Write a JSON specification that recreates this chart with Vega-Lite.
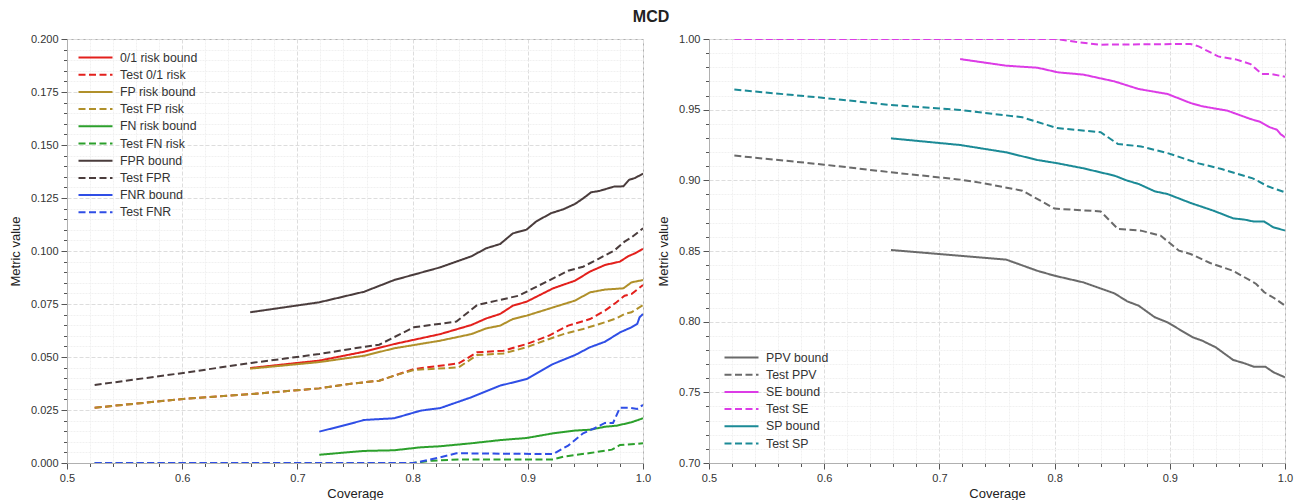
{
  "$schema": "https://vega.github.io/schema/vega-lite/v6.json",
  "background": "white",
  "padding": {"left": 8, "top": 8, "right": 18, "bottom": 5},
  "title": {"text": "MCD", "fontSize": 16, "fontWeight": "bold", "font": "Liberation Sans", "color": "#222", "anchor": "middle", "offset": 8},
  "spacing": 5,
  "config": {
    "view": {"stroke": "#b0b0b0", "strokeWidth": 1},
    "font": "Liberation Sans",
    "axis": {"labelFont": "Liberation Sans", "labelFontSize": 11, "labelColor": "#333", "titleFont": "Liberation Sans", "titleFontSize": 13, "titleFontWeight": "normal", "titleColor": "#222", "domainColor": "#b0b0b0", "tickColor": "#555", "labelPadding": 3},
    "legend": {"labelFont": "Liberation Sans", "labelFontSize": 12.3, "labelColor": "#333", "symbolType": "M-2,0H2", "symbolSize": 289, "symbolStrokeWidth": 2, "symbolFillColor": "transparent", "rowPadding": 1.2, "labelOffset": 15, "title": null}
  },
  "datasets": {
    "left": [
      {"series": "0/1 risk bound", "coverage": 0.659, "value": 0.0448},
      {"series": "0/1 risk bound", "coverage": 0.719, "value": 0.0483},
      {"series": "0/1 risk bound", "coverage": 0.758, "value": 0.0525},
      {"series": "0/1 risk bound", "coverage": 0.784, "value": 0.0561},
      {"series": "0/1 risk bound", "coverage": 0.824, "value": 0.0608},
      {"series": "0/1 risk bound", "coverage": 0.851, "value": 0.0651},
      {"series": "0/1 risk bound", "coverage": 0.864, "value": 0.0682},
      {"series": "0/1 risk bound", "coverage": 0.876, "value": 0.0703},
      {"series": "0/1 risk bound", "coverage": 0.887, "value": 0.0742},
      {"series": "0/1 risk bound", "coverage": 0.899, "value": 0.0761},
      {"series": "0/1 risk bound", "coverage": 0.922, "value": 0.0824},
      {"series": "0/1 risk bound", "coverage": 0.941, "value": 0.086},
      {"series": "0/1 risk bound", "coverage": 0.954, "value": 0.0903},
      {"series": "0/1 risk bound", "coverage": 0.967, "value": 0.0934},
      {"series": "0/1 risk bound", "coverage": 0.98, "value": 0.095},
      {"series": "0/1 risk bound", "coverage": 0.987, "value": 0.0975},
      {"series": "0/1 risk bound", "coverage": 0.993, "value": 0.0989},
      {"series": "0/1 risk bound", "coverage": 1.0, "value": 0.101},
      {"series": "Test 0/1 risk", "coverage": 0.524, "value": 0.0261},
      {"series": "Test 0/1 risk", "coverage": 0.601, "value": 0.0302},
      {"series": "Test 0/1 risk", "coverage": 0.66, "value": 0.0325},
      {"series": "Test 0/1 risk", "coverage": 0.719, "value": 0.0352},
      {"series": "Test 0/1 risk", "coverage": 0.745, "value": 0.0373},
      {"series": "Test 0/1 risk", "coverage": 0.771, "value": 0.0388},
      {"series": "Test 0/1 risk", "coverage": 0.784, "value": 0.0412},
      {"series": "Test 0/1 risk", "coverage": 0.801, "value": 0.0443},
      {"series": "Test 0/1 risk", "coverage": 0.84, "value": 0.047},
      {"series": "Test 0/1 risk", "coverage": 0.856, "value": 0.0522},
      {"series": "Test 0/1 risk", "coverage": 0.879, "value": 0.053},
      {"series": "Test 0/1 risk", "coverage": 0.899, "value": 0.0561},
      {"series": "Test 0/1 risk", "coverage": 0.918, "value": 0.06},
      {"series": "Test 0/1 risk", "coverage": 0.935, "value": 0.0648},
      {"series": "Test 0/1 risk", "coverage": 0.954, "value": 0.0679},
      {"series": "Test 0/1 risk", "coverage": 0.967, "value": 0.0719},
      {"series": "Test 0/1 risk", "coverage": 0.977, "value": 0.0758},
      {"series": "Test 0/1 risk", "coverage": 0.984, "value": 0.0789},
      {"series": "Test 0/1 risk", "coverage": 0.99, "value": 0.0797},
      {"series": "Test 0/1 risk", "coverage": 1.0, "value": 0.084},
      {"series": "FP risk bound", "coverage": 0.659, "value": 0.0445},
      {"series": "FP risk bound", "coverage": 0.719, "value": 0.0476},
      {"series": "FP risk bound", "coverage": 0.758, "value": 0.0506},
      {"series": "FP risk bound", "coverage": 0.784, "value": 0.0541},
      {"series": "FP risk bound", "coverage": 0.824, "value": 0.0577},
      {"series": "FP risk bound", "coverage": 0.851, "value": 0.0608},
      {"series": "FP risk bound", "coverage": 0.864, "value": 0.0635},
      {"series": "FP risk bound", "coverage": 0.876, "value": 0.0648},
      {"series": "FP risk bound", "coverage": 0.887, "value": 0.0679},
      {"series": "FP risk bound", "coverage": 0.899, "value": 0.0695},
      {"series": "FP risk bound", "coverage": 0.922, "value": 0.0734},
      {"series": "FP risk bound", "coverage": 0.941, "value": 0.0766},
      {"series": "FP risk bound", "coverage": 0.954, "value": 0.0805},
      {"series": "FP risk bound", "coverage": 0.967, "value": 0.0818},
      {"series": "FP risk bound", "coverage": 0.983, "value": 0.0824},
      {"series": "FP risk bound", "coverage": 0.99, "value": 0.0852},
      {"series": "FP risk bound", "coverage": 1.0, "value": 0.0863},
      {"series": "Test FP risk", "coverage": 0.524, "value": 0.0261},
      {"series": "Test FP risk", "coverage": 0.601, "value": 0.0302},
      {"series": "Test FP risk", "coverage": 0.66, "value": 0.0325},
      {"series": "Test FP risk", "coverage": 0.719, "value": 0.0352},
      {"series": "Test FP risk", "coverage": 0.745, "value": 0.0373},
      {"series": "Test FP risk", "coverage": 0.771, "value": 0.0388},
      {"series": "Test FP risk", "coverage": 0.784, "value": 0.0412},
      {"series": "Test FP risk", "coverage": 0.801, "value": 0.0439},
      {"series": "Test FP risk", "coverage": 0.84, "value": 0.0451},
      {"series": "Test FP risk", "coverage": 0.856, "value": 0.0509},
      {"series": "Test FP risk", "coverage": 0.879, "value": 0.0517},
      {"series": "Test FP risk", "coverage": 0.899, "value": 0.0546},
      {"series": "Test FP risk", "coverage": 0.918, "value": 0.0584},
      {"series": "Test FP risk", "coverage": 0.931, "value": 0.0608},
      {"series": "Test FP risk", "coverage": 0.948, "value": 0.0632},
      {"series": "Test FP risk", "coverage": 0.967, "value": 0.0664},
      {"series": "Test FP risk", "coverage": 0.977, "value": 0.0682},
      {"series": "Test FP risk", "coverage": 0.984, "value": 0.0703},
      {"series": "Test FP risk", "coverage": 0.99, "value": 0.0711},
      {"series": "Test FP risk", "coverage": 1.0, "value": 0.0745},
      {"series": "FN risk bound", "coverage": 0.719, "value": 0.0039},
      {"series": "FN risk bound", "coverage": 0.758, "value": 0.0057},
      {"series": "FN risk bound", "coverage": 0.784, "value": 0.006},
      {"series": "FN risk bound", "coverage": 0.807, "value": 0.0074},
      {"series": "FN risk bound", "coverage": 0.824, "value": 0.0079},
      {"series": "FN risk bound", "coverage": 0.851, "value": 0.0093},
      {"series": "FN risk bound", "coverage": 0.876, "value": 0.0108},
      {"series": "FN risk bound", "coverage": 0.899, "value": 0.0118},
      {"series": "FN risk bound", "coverage": 0.922, "value": 0.014},
      {"series": "FN risk bound", "coverage": 0.941, "value": 0.0153},
      {"series": "FN risk bound", "coverage": 0.954, "value": 0.0157},
      {"series": "FN risk bound", "coverage": 0.967, "value": 0.0171},
      {"series": "FN risk bound", "coverage": 0.977, "value": 0.0176},
      {"series": "FN risk bound", "coverage": 0.99, "value": 0.0192},
      {"series": "FN risk bound", "coverage": 1.0, "value": 0.0211},
      {"series": "Test FN risk", "coverage": 0.524, "value": 0},
      {"series": "Test FN risk", "coverage": 0.8, "value": 0},
      {"series": "Test FN risk", "coverage": 0.817, "value": 0.0011},
      {"series": "Test FN risk", "coverage": 0.84, "value": 0.0017},
      {"series": "Test FN risk", "coverage": 0.922, "value": 0.0017},
      {"series": "Test FN risk", "coverage": 0.931, "value": 0.003},
      {"series": "Test FN risk", "coverage": 0.954, "value": 0.0047},
      {"series": "Test FN risk", "coverage": 0.973, "value": 0.0063},
      {"series": "Test FN risk", "coverage": 0.98, "value": 0.0085},
      {"series": "Test FN risk", "coverage": 0.993, "value": 0.009},
      {"series": "Test FN risk", "coverage": 1.0, "value": 0.0093},
      {"series": "FPR bound", "coverage": 0.659, "value": 0.0711},
      {"series": "FPR bound", "coverage": 0.719, "value": 0.0758},
      {"series": "FPR bound", "coverage": 0.758, "value": 0.0808},
      {"series": "FPR bound", "coverage": 0.784, "value": 0.0863},
      {"series": "FPR bound", "coverage": 0.824, "value": 0.0923},
      {"series": "FPR bound", "coverage": 0.851, "value": 0.0975},
      {"series": "FPR bound", "coverage": 0.864, "value": 0.1013},
      {"series": "FPR bound", "coverage": 0.876, "value": 0.1033},
      {"series": "FPR bound", "coverage": 0.887, "value": 0.1083},
      {"series": "FPR bound", "coverage": 0.899, "value": 0.1101},
      {"series": "FPR bound", "coverage": 0.907, "value": 0.1138},
      {"series": "FPR bound", "coverage": 0.92, "value": 0.1178},
      {"series": "FPR bound", "coverage": 0.931, "value": 0.1197},
      {"series": "FPR bound", "coverage": 0.941, "value": 0.1222},
      {"series": "FPR bound", "coverage": 0.948, "value": 0.1248},
      {"series": "FPR bound", "coverage": 0.955, "value": 0.1277},
      {"series": "FPR bound", "coverage": 0.962, "value": 0.1283},
      {"series": "FPR bound", "coverage": 0.97, "value": 0.1296},
      {"series": "FPR bound", "coverage": 0.975, "value": 0.1304},
      {"series": "FPR bound", "coverage": 0.983, "value": 0.1305},
      {"series": "FPR bound", "coverage": 0.988, "value": 0.1336},
      {"series": "FPR bound", "coverage": 0.993, "value": 0.1344},
      {"series": "FPR bound", "coverage": 1.0, "value": 0.1365},
      {"series": "Test FPR", "coverage": 0.524, "value": 0.0368},
      {"series": "Test FPR", "coverage": 0.601, "value": 0.0425},
      {"series": "Test FPR", "coverage": 0.66, "value": 0.0472},
      {"series": "Test FPR", "coverage": 0.719, "value": 0.0514},
      {"series": "Test FPR", "coverage": 0.745, "value": 0.0537},
      {"series": "Test FPR", "coverage": 0.771, "value": 0.0558},
      {"series": "Test FPR", "coverage": 0.801, "value": 0.064},
      {"series": "Test FPR", "coverage": 0.838, "value": 0.0667},
      {"series": "Test FPR", "coverage": 0.856, "value": 0.0745},
      {"series": "Test FPR", "coverage": 0.873, "value": 0.0766},
      {"series": "Test FPR", "coverage": 0.892, "value": 0.0789},
      {"series": "Test FPR", "coverage": 0.918, "value": 0.086},
      {"series": "Test FPR", "coverage": 0.935, "value": 0.0907},
      {"series": "Test FPR", "coverage": 0.948, "value": 0.0926},
      {"series": "Test FPR", "coverage": 0.961, "value": 0.0962},
      {"series": "Test FPR", "coverage": 0.975, "value": 0.1002},
      {"series": "Test FPR", "coverage": 0.984, "value": 0.1044},
      {"series": "Test FPR", "coverage": 0.99, "value": 0.1064},
      {"series": "Test FPR", "coverage": 1.0, "value": 0.1107},
      {"series": "FNR bound", "coverage": 0.719, "value": 0.0148},
      {"series": "FNR bound", "coverage": 0.745, "value": 0.0184},
      {"series": "FNR bound", "coverage": 0.758, "value": 0.0203},
      {"series": "FNR bound", "coverage": 0.784, "value": 0.0211},
      {"series": "FNR bound", "coverage": 0.807, "value": 0.0247},
      {"series": "FNR bound", "coverage": 0.824, "value": 0.0259},
      {"series": "FNR bound", "coverage": 0.851, "value": 0.031},
      {"series": "FNR bound", "coverage": 0.876, "value": 0.0365},
      {"series": "FNR bound", "coverage": 0.899, "value": 0.0396},
      {"series": "FNR bound", "coverage": 0.922, "value": 0.0467},
      {"series": "FNR bound", "coverage": 0.941, "value": 0.0509},
      {"series": "FNR bound", "coverage": 0.954, "value": 0.0546},
      {"series": "FNR bound", "coverage": 0.967, "value": 0.0572},
      {"series": "FNR bound", "coverage": 0.98, "value": 0.0616},
      {"series": "FNR bound", "coverage": 0.99, "value": 0.064},
      {"series": "FNR bound", "coverage": 0.995, "value": 0.0656},
      {"series": "FNR bound", "coverage": 0.997, "value": 0.0687},
      {"series": "FNR bound", "coverage": 1.0, "value": 0.0703},
      {"series": "Test FNR", "coverage": 0.524, "value": 0},
      {"series": "Test FNR", "coverage": 0.801, "value": 0},
      {"series": "Test FNR", "coverage": 0.824, "value": 0.0027},
      {"series": "Test FNR", "coverage": 0.838, "value": 0.0046},
      {"series": "Test FNR", "coverage": 0.922, "value": 0.0042},
      {"series": "Test FNR", "coverage": 0.935, "value": 0.0082},
      {"series": "Test FNR", "coverage": 0.948, "value": 0.014},
      {"series": "Test FNR", "coverage": 0.958, "value": 0.0164},
      {"series": "Test FNR", "coverage": 0.967, "value": 0.0189},
      {"series": "Test FNR", "coverage": 0.974, "value": 0.0189},
      {"series": "Test FNR", "coverage": 0.98, "value": 0.0261},
      {"series": "Test FNR", "coverage": 0.987, "value": 0.0261},
      {"series": "Test FNR", "coverage": 0.995, "value": 0.0255},
      {"series": "Test FNR", "coverage": 1.0, "value": 0.0274}
    ],
    "right": [
      {"series": "PPV bound", "coverage": 0.658, "value": 0.8507},
      {"series": "PPV bound", "coverage": 0.758, "value": 0.8439},
      {"series": "PPV bound", "coverage": 0.785, "value": 0.836},
      {"series": "PPV bound", "coverage": 0.8, "value": 0.8325},
      {"series": "PPV bound", "coverage": 0.825, "value": 0.8278},
      {"series": "PPV bound", "coverage": 0.852, "value": 0.82},
      {"series": "PPV bound", "coverage": 0.863, "value": 0.8144},
      {"series": "PPV bound", "coverage": 0.873, "value": 0.8113},
      {"series": "PPV bound", "coverage": 0.887, "value": 0.8031},
      {"series": "PPV bound", "coverage": 0.898, "value": 0.7995},
      {"series": "PPV bound", "coverage": 0.92, "value": 0.7889},
      {"series": "PPV bound", "coverage": 0.928, "value": 0.7866},
      {"series": "PPV bound", "coverage": 0.94, "value": 0.7818},
      {"series": "PPV bound", "coverage": 0.955, "value": 0.7729},
      {"series": "PPV bound", "coverage": 0.965, "value": 0.7705},
      {"series": "PPV bound", "coverage": 0.973, "value": 0.7681},
      {"series": "PPV bound", "coverage": 0.983, "value": 0.7681},
      {"series": "PPV bound", "coverage": 0.99, "value": 0.7642},
      {"series": "PPV bound", "coverage": 1.0, "value": 0.7606},
      {"series": "Test PPV", "coverage": 0.522, "value": 0.9175},
      {"series": "Test PPV", "coverage": 0.6, "value": 0.9111},
      {"series": "Test PPV", "coverage": 0.658, "value": 0.9057},
      {"series": "Test PPV", "coverage": 0.718, "value": 0.9005},
      {"series": "Test PPV", "coverage": 0.738, "value": 0.898},
      {"series": "Test PPV", "coverage": 0.772, "value": 0.8927},
      {"series": "Test PPV", "coverage": 0.8, "value": 0.88},
      {"series": "Test PPV", "coverage": 0.84, "value": 0.878},
      {"series": "Test PPV", "coverage": 0.855, "value": 0.8656},
      {"series": "Test PPV", "coverage": 0.875, "value": 0.8644},
      {"series": "Test PPV", "coverage": 0.892, "value": 0.8609},
      {"series": "Test PPV", "coverage": 0.908, "value": 0.8502},
      {"series": "Test PPV", "coverage": 0.918, "value": 0.8479},
      {"series": "Test PPV", "coverage": 0.935, "value": 0.8415},
      {"series": "Test PPV", "coverage": 0.955, "value": 0.836},
      {"series": "Test PPV", "coverage": 0.975, "value": 0.8267},
      {"series": "Test PPV", "coverage": 0.982, "value": 0.8208},
      {"series": "Test PPV", "coverage": 0.992, "value": 0.816},
      {"series": "Test PPV", "coverage": 1.0, "value": 0.8113},
      {"series": "SE bound", "coverage": 0.718, "value": 0.9858},
      {"series": "SE bound", "coverage": 0.758, "value": 0.9811},
      {"series": "SE bound", "coverage": 0.785, "value": 0.9797},
      {"series": "SE bound", "coverage": 0.803, "value": 0.9764},
      {"series": "SE bound", "coverage": 0.825, "value": 0.9748},
      {"series": "SE bound", "coverage": 0.852, "value": 0.97},
      {"series": "SE bound", "coverage": 0.873, "value": 0.9646},
      {"series": "SE bound", "coverage": 0.898, "value": 0.9611},
      {"series": "SE bound", "coverage": 0.918, "value": 0.9547},
      {"series": "SE bound", "coverage": 0.928, "value": 0.9524},
      {"series": "SE bound", "coverage": 0.95, "value": 0.9493},
      {"series": "SE bound", "coverage": 0.97, "value": 0.9434},
      {"series": "SE bound", "coverage": 0.978, "value": 0.9415},
      {"series": "SE bound", "coverage": 0.987, "value": 0.9375},
      {"series": "SE bound", "coverage": 0.993, "value": 0.9358},
      {"series": "SE bound", "coverage": 0.996, "value": 0.9328},
      {"series": "SE bound", "coverage": 1.0, "value": 0.9304},
      {"series": "Test SE", "coverage": 0.522, "value": 1.0},
      {"series": "Test SE", "coverage": 0.802, "value": 1.0},
      {"series": "Test SE", "coverage": 0.818, "value": 0.998},
      {"series": "Test SE", "coverage": 0.838, "value": 0.996},
      {"series": "Test SE", "coverage": 0.918, "value": 0.9965},
      {"series": "Test SE", "coverage": 0.925, "value": 0.9948},
      {"series": "Test SE", "coverage": 0.942, "value": 0.9877},
      {"series": "Test SE", "coverage": 0.958, "value": 0.9854},
      {"series": "Test SE", "coverage": 0.97, "value": 0.9823},
      {"series": "Test SE", "coverage": 0.98, "value": 0.9752},
      {"series": "Test SE", "coverage": 0.988, "value": 0.9752},
      {"series": "Test SE", "coverage": 1.0, "value": 0.9733},
      {"series": "SP bound", "coverage": 0.658, "value": 0.9297},
      {"series": "SP bound", "coverage": 0.718, "value": 0.925},
      {"series": "SP bound", "coverage": 0.758, "value": 0.9198},
      {"series": "SP bound", "coverage": 0.785, "value": 0.9144},
      {"series": "SP bound", "coverage": 0.803, "value": 0.912},
      {"series": "SP bound", "coverage": 0.825, "value": 0.9085},
      {"series": "SP bound", "coverage": 0.852, "value": 0.9033},
      {"series": "SP bound", "coverage": 0.863, "value": 0.8998},
      {"series": "SP bound", "coverage": 0.873, "value": 0.8974},
      {"series": "SP bound", "coverage": 0.887, "value": 0.8922},
      {"series": "SP bound", "coverage": 0.898, "value": 0.8903},
      {"series": "SP bound", "coverage": 0.918, "value": 0.884},
      {"series": "SP bound", "coverage": 0.938, "value": 0.8785},
      {"series": "SP bound", "coverage": 0.955, "value": 0.8731},
      {"series": "SP bound", "coverage": 0.965, "value": 0.8722},
      {"series": "SP bound", "coverage": 0.973, "value": 0.8708},
      {"series": "SP bound", "coverage": 0.982, "value": 0.8708},
      {"series": "SP bound", "coverage": 0.99, "value": 0.8667},
      {"series": "SP bound", "coverage": 1.0, "value": 0.8645},
      {"series": "Test SP", "coverage": 0.522, "value": 0.9642},
      {"series": "Test SP", "coverage": 0.6, "value": 0.9583},
      {"series": "Test SP", "coverage": 0.658, "value": 0.9533},
      {"series": "Test SP", "coverage": 0.718, "value": 0.9498},
      {"series": "Test SP", "coverage": 0.772, "value": 0.9446},
      {"series": "Test SP", "coverage": 0.802, "value": 0.937},
      {"series": "Test SP", "coverage": 0.84, "value": 0.934},
      {"series": "Test SP", "coverage": 0.855, "value": 0.9257},
      {"series": "Test SP", "coverage": 0.875, "value": 0.924},
      {"series": "Test SP", "coverage": 0.898, "value": 0.9193},
      {"series": "Test SP", "coverage": 0.925, "value": 0.912},
      {"series": "Test SP", "coverage": 0.945, "value": 0.908},
      {"series": "Test SP", "coverage": 0.972, "value": 0.9014},
      {"series": "Test SP", "coverage": 0.985, "value": 0.8958},
      {"series": "Test SP", "coverage": 1.0, "value": 0.8915}
    ]
  },
  "resolve": {"scale": {"color": "independent", "strokeDash": "independent", "x": "independent", "y": "independent"}, "legend": {"color": "independent", "strokeDash": "independent"}},
  "hconcat": [
    {
      "width": 576,
      "height": 424,
      "data": {"name": "left"},
      "mark": {"type": "line", "strokeWidth": 2, "clip": true},
      "encoding": {
        "x": {"field": "coverage", "type": "quantitative", "scale": {"domain": [0.5, 1.0], "nice": false, "zero": false},
          "axis": {"title": "Coverage", "values": [0.5,0.52,0.54,0.56,0.58,0.6,0.62,0.64,0.66,0.68,0.7,0.72,0.74,0.76,0.78,0.8,0.82,0.84,0.86,0.88,0.9,0.92,0.94,0.96,0.98,1.0],
            "labelExpr": "abs(datum.value*10 - round(datum.value*10)) < 0.001 ? format(datum.value, '.1f') : ''",
            "tickSize": {"condition": {"test": "abs(datum.value*10 - round(datum.value*10)) < 0.001", "value": 6}, "value": 3.5},
            "gridColor": {"condition": {"test": "abs(datum.value*10 - round(datum.value*10)) < 0.001", "value": "#dddddd"}, "value": "#f1f1f1"},
            "gridDash": {"condition": {"test": "abs(datum.value*10 - round(datum.value*10)) < 0.001", "value": [4, 2]}, "value": [2, 1]},
            "labelFlush": false, "titlePadding": 4}},
        "y": {"field": "value", "type": "quantitative", "scale": {"domain": [0, 0.2], "nice": false},
          "axis": {"title": "Metric value", "values": [0,0.005,0.01,0.015,0.02,0.025,0.03,0.035,0.04,0.045,0.05,0.055,0.06,0.065,0.07,0.075,0.08,0.085,0.09,0.095,0.1,0.105,0.11,0.115,0.12,0.125,0.13,0.135,0.14,0.145,0.15,0.155,0.16,0.165,0.17,0.175,0.18,0.185,0.19,0.195,0.2],
            "labelExpr": "abs(datum.value*40 - round(datum.value*40)) < 0.001 ? format(datum.value, '.3f') : ''",
            "tickSize": {"condition": {"test": "abs(datum.value*40 - round(datum.value*40)) < 0.001", "value": 6}, "value": 3.5},
            "gridColor": {"condition": {"test": "abs(datum.value*40 - round(datum.value*40)) < 0.001", "value": "#dddddd"}, "value": "#f1f1f1"},
            "gridDash": {"condition": {"test": "abs(datum.value*40 - round(datum.value*40)) < 0.001", "value": [4, 2]}, "value": [2, 1]},
            "titlePadding": 8}},
        "color": {"field": "series", "type": "nominal",
          "scale": {"domain": ["0/1 risk bound", "Test 0/1 risk", "FP risk bound", "Test FP risk", "FN risk bound", "Test FN risk", "FPR bound", "Test FPR", "FNR bound", "Test FNR"],
            "range": ["#e3201c", "#e3201c", "#b0902a", "#b0902a", "#2ca02c", "#2ca02c", "#4a3c3c", "#4a3c3c", "#2f4ee6", "#2f4ee6"]},
          "legend": {"orient": "none", "legendX": 19, "legendY": 9}},
        "strokeDash": {"field": "series", "type": "nominal",
          "scale": {"domain": ["0/1 risk bound", "Test 0/1 risk", "FP risk bound", "Test FP risk", "FN risk bound", "Test FN risk", "FPR bound", "Test FPR", "FNR bound", "Test FNR"],
            "range": [[1, 0], [7, 3.5], [1, 0], [7, 3.5], [1, 0], [7, 3.5], [1, 0], [7, 3.5], [1, 0], [7, 3.5]]},
          "legend": {"orient": "none", "legendX": 19, "legendY": 9}}
      }
    },
    {
      "width": 576,
      "height": 424,
      "data": {"name": "right"},
      "mark": {"type": "line", "strokeWidth": 2, "clip": true},
      "encoding": {
        "x": {"field": "coverage", "type": "quantitative", "scale": {"domain": [0.5, 1.0], "nice": false, "zero": false},
          "axis": {"title": "Coverage", "values": [0.5,0.52,0.54,0.56,0.58,0.6,0.62,0.64,0.66,0.68,0.7,0.72,0.74,0.76,0.78,0.8,0.82,0.84,0.86,0.88,0.9,0.92,0.94,0.96,0.98,1.0],
            "labelExpr": "abs(datum.value*10 - round(datum.value*10)) < 0.001 ? format(datum.value, '.1f') : ''",
            "tickSize": {"condition": {"test": "abs(datum.value*10 - round(datum.value*10)) < 0.001", "value": 6}, "value": 3.5},
            "gridColor": {"condition": {"test": "abs(datum.value*10 - round(datum.value*10)) < 0.001", "value": "#dddddd"}, "value": "#f1f1f1"},
            "gridDash": {"condition": {"test": "abs(datum.value*10 - round(datum.value*10)) < 0.001", "value": [4, 2]}, "value": [2, 1]},
            "labelFlush": false, "titlePadding": 4}},
        "y": {"field": "value", "type": "quantitative", "scale": {"domain": [0.7, 1.0], "nice": false, "zero": false},
          "axis": {"title": "Metric value", "values": [0.7,0.71,0.72,0.73,0.74,0.75,0.76,0.77,0.78,0.79,0.8,0.81,0.82,0.83,0.84,0.85,0.86,0.87,0.88,0.89,0.9,0.91,0.92,0.93,0.94,0.95,0.96,0.97,0.98,0.99,1.0],
            "labelExpr": "abs(datum.value*20 - round(datum.value*20)) < 0.001 ? format(datum.value, '.2f') : ''",
            "tickSize": {"condition": {"test": "abs(datum.value*20 - round(datum.value*20)) < 0.001", "value": 6}, "value": 3.5},
            "gridColor": {"condition": {"test": "abs(datum.value*20 - round(datum.value*20)) < 0.001", "value": "#dddddd"}, "value": "#f1f1f1"},
            "gridDash": {"condition": {"test": "abs(datum.value*20 - round(datum.value*20)) < 0.001", "value": [4, 2]}, "value": [2, 1]},
            "titlePadding": 8}},
        "color": {"field": "series", "type": "nominal",
          "scale": {"domain": ["PPV bound", "Test PPV", "SE bound", "Test SE", "SP bound", "Test SP"],
            "range": ["#6a6a6a", "#6a6a6a", "#dc3ce6", "#dc3ce6", "#1b8a96", "#1b8a96"]},
          "legend": {"orient": "none", "legendX": 23, "legendY": 309}},
        "strokeDash": {"field": "series", "type": "nominal",
          "scale": {"domain": ["PPV bound", "Test PPV", "SE bound", "Test SE", "SP bound", "Test SP"],
            "range": [[1, 0], [7, 3.5], [1, 0], [7, 3.5], [1, 0], [7, 3.5]]},
          "legend": {"orient": "none", "legendX": 23, "legendY": 309}}
      }
    }
  ]
}
